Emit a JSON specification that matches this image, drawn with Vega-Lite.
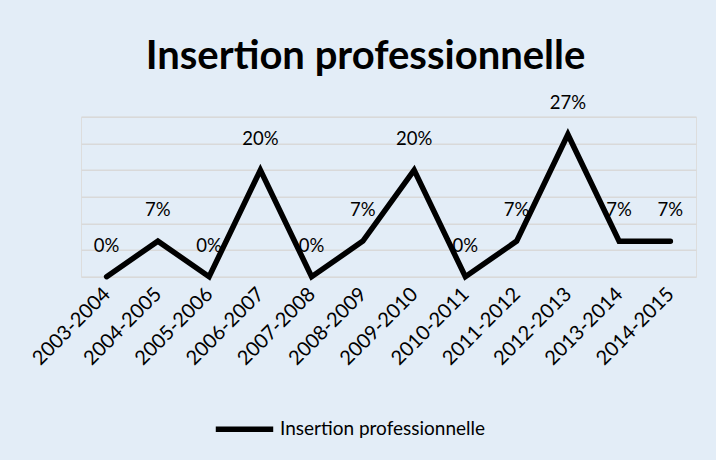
{
  "$schema": "https://vega.github.io/schema/vega-lite/v6.json",
  "autosize": {"type": "none"},
  "width": 615,
  "height": 160,
  "padding": {"left": 81, "top": 116.7, "right": 20, "bottom": 183.3},
  "background": "#E3EDF7",
  "title": {
    "text": "Insertion professionnelle",
    "anchor": "middle",
    "font": "Lato",
    "fontSize": 40,
    "fontWeight": "bold",
    "color": "#000000",
    "baseline": "alphabetic",
    "offset": -15,
    "dx": -23
  },
  "data": {
    "values": [
      {"annee": "2003-2004", "taux": 0, "serie": "Insertion professionnelle"},
      {"annee": "2004-2005", "taux": 0.0667, "serie": "Insertion professionnelle"},
      {"annee": "2005-2006", "taux": 0, "serie": "Insertion professionnelle"},
      {"annee": "2006-2007", "taux": 0.2, "serie": "Insertion professionnelle"},
      {"annee": "2007-2008", "taux": 0, "serie": "Insertion professionnelle"},
      {"annee": "2008-2009", "taux": 0.0667, "serie": "Insertion professionnelle"},
      {"annee": "2009-2010", "taux": 0.2, "serie": "Insertion professionnelle"},
      {"annee": "2010-2011", "taux": 0, "serie": "Insertion professionnelle"},
      {"annee": "2011-2012", "taux": 0.0667, "serie": "Insertion professionnelle"},
      {"annee": "2012-2013", "taux": 0.2667, "serie": "Insertion professionnelle"},
      {"annee": "2013-2014", "taux": 0.0667, "serie": "Insertion professionnelle"},
      {"annee": "2014-2015", "taux": 0.0667, "serie": "Insertion professionnelle"}
    ]
  },
  "encoding": {
    "x": {
      "field": "annee",
      "type": "ordinal",
      "sort": null,
      "scale": {"type": "point", "padding": 0.5},
      "axis": {
        "title": null,
        "domain": false,
        "ticks": false,
        "grid": false,
        "labelAngle": -45,
        "labelAlign": "right",
        "labelBaseline": "middle",
        "labelPadding": 14,
        "labelFont": "Lato",
        "labelFontSize": 20,
        "labelColor": "#000000"
      }
    },
    "y": {
      "field": "taux",
      "type": "quantitative",
      "scale": {"domain": [0, 0.3]},
      "axis": {
        "title": null,
        "labels": false,
        "ticks": false,
        "domain": false,
        "grid": true,
        "gridColor": "#D9D9D9",
        "gridWidth": 1.5,
        "values": [0, 0.05, 0.1, 0.15, 0.2, 0.25, 0.3]
      }
    }
  },
  "layer": [
    {
      "mark": {"type": "line", "strokeWidth": 5.5, "strokeJoin": "miter", "strokeCap": "round"},
      "encoding": {
        "color": {
          "field": "serie",
          "type": "nominal",
          "scale": {"range": ["#000000"]},
          "legend": {
            "title": null,
            "orient": "none",
            "legendX": 132,
            "legendY": 281,
            "symbolType": "stroke",
            "symbolSize": 3300,
            "symbolStrokeWidth": 5.5,
            "labelFont": "Lato",
            "labelFontSize": 19,
            "labelLimit": 400,
            "labelColor": "#000000",
            "labelOffset": 4
          }
        }
      }
    },
    {
      "mark": {"type": "text", "baseline": "alphabetic", "dy": -25, "font": "Lato", "fontSize": 18.5, "color": "#000000"},
      "encoding": {
        "text": {"field": "taux", "type": "quantitative", "format": ".0%"}
      }
    }
  ]
}
